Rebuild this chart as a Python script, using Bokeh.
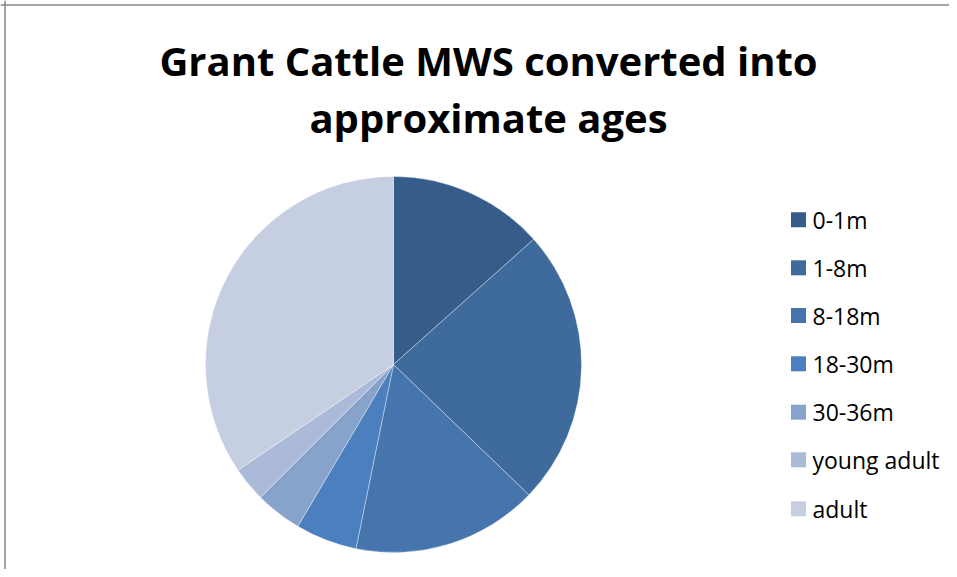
import numpy as np
from bokeh.plotting import figure
from bokeh.models import ColumnDataSource, Span
from bokeh.core.properties import value
from bokeh.embed import file_html
from bokeh.resources import INLINE

title_lines = ["Grant Cattle MWS converted into", "approximate ages"]
categories = ["0-1m", "1-8m", "8-18m", "18-30m", "30-36m", "young adult", "adult"]
shares = [13.4, 23.8, 16.0, 5.3, 4.0, 3.0, 34.5]
colors = ["#365D8A", "#3F6A9C", "#4675AE", "#4B7FBE", "#87A2CB", "#ABBAD9", "#C6CFE2"]

W, H = 949, 569
p = figure(width=W, height=H, x_range=(0, W), y_range=(0, H),
           output_backend="svg", toolbar_location=None,
           min_border=0, match_aspect=False)
p.xaxis.visible = False
p.yaxis.visible = False
p.xgrid.visible = False
p.ygrid.visible = False
p.outline_line_color = None
p.background_fill_color = "white"
p.border_fill_color = "white"

# frame lines (left and top)
p.add_layout(Span(location=4.5, dimension="height", line_color="#868686", line_width=1.5))
p.add_layout(Span(location=H - 4.5, dimension="width", line_color="#868686", line_width=1.5))

# pie
vals = np.array(shares, dtype=float)
frac = vals / vals.sum()
cum = np.concatenate([[0], np.cumsum(frac)])
start = np.pi / 2 - cum[1:] * 2 * np.pi
end = np.pi / 2 - cum[:-1] * 2 * np.pi
cx, cy, r = 393, H - 364, 188
src = ColumnDataSource(dict(start=start, end=end, color=colors, cat=categories))
p.wedge(x=cx, y=cy, radius=r, start_angle="start", end_angle="end",
        fill_color="color", line_color="white", line_width=0.6, line_alpha=0.6,
        source=src)

# title
p.text(x=[488, 488], y=[H - 60, H - 117], text=title_lines,
       text_font=value("Open Sans"), text_font_style="bold", text_font_size="40px",
       text_align="center", text_baseline="middle", text_color="black")

# legend
ly = H - np.array([219.3, 267.3, 315, 363.3, 411.7, 459.3, 508.3])
lsrc = ColumnDataSource(dict(y=ly, color=colors, cat=categories))
p.rect(x=798, y="y", width=15, height=15, fill_color="color", line_color=None, source=lsrc)
p.text(x=812, y="y", text="cat", source=lsrc, text_font=value("Open Sans"),
       text_font_size="23px", text_baseline="middle", text_align="left", text_color="black")

open("out.html", "w").write(file_html(p, INLINE))
